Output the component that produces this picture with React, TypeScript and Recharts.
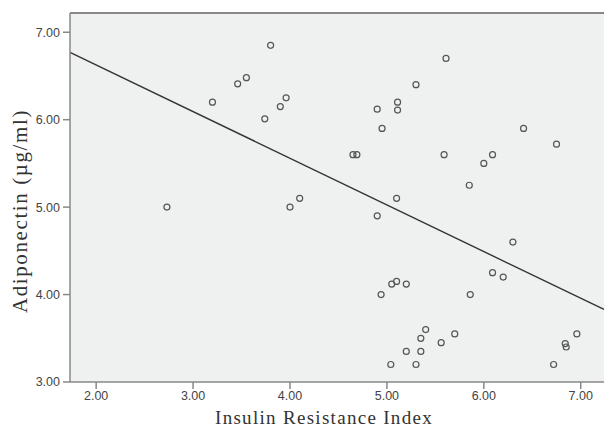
import React from 'react'
import {
  ScatterChart,
  Scatter,
  XAxis,
  YAxis,
  CartesianGrid,
  ReferenceLine,
  Label,
} from 'recharts'

// insulin resistance index vs adiponectin, one entry per subject
const IR = [
  2.73, 3.2, 3.46, 3.55, 3.8, 3.74, 3.9, 3.96, 4.0, 4.1,
  4.65, 4.69, 4.9, 5.11, 5.11, 4.95, 5.3, 5.61, 6.41, 6.75,
  5.59, 6.09, 6.0, 5.85, 5.1, 4.9, 6.3, 6.09, 6.2, 5.86,
  4.94, 5.05, 5.1, 5.2, 5.4, 5.35, 5.56, 5.7, 5.2, 5.35,
  5.04, 5.3, 6.72, 6.84, 6.85, 6.96,
]
const ADIPO = [
  5.0, 6.2, 6.41, 6.48, 6.85, 6.01, 6.15, 6.25, 5.0, 5.1,
  5.6, 5.6, 6.12, 6.2, 6.11, 5.9, 6.4, 6.7, 5.9, 5.72,
  5.6, 5.6, 5.5, 5.25, 5.1, 4.9, 4.6, 4.25, 4.2, 4.0,
  4.0, 4.12, 4.15, 4.12, 3.6, 3.5, 3.45, 3.55, 3.35, 3.35,
  3.2, 3.2, 3.2, 3.44, 3.4, 3.55,
]

// fit line endpoints at the axis limits
const FIT_X = [1.73, 7.24]
const FIT_Y = [6.77, 3.83]

const X_DOMAIN = [1.73, 7.24]
const Y_DOMAIN = [3, 7.22]
const X_TICKS = [2, 3, 4, 5, 6, 7]
const Y_TICKS = [3, 4, 5, 6, 7]

const points = IR.map((x, i) => ({ x, y: ADIPO[i] }))

const tickStyle = { fontSize: 12.5, fill: '#444', fontFamily: 'Liberation Sans, Arial, sans-serif' }
const serif = 'Liberation Serif, Times New Roman, serif'

const OpenDot = (props: any) => {
  const { cx, cy } = props
  if (cx == null || cy == null) return null
  return <circle cx={cx} cy={cy} r={3} fill="none" stroke="#555" strokeWidth={1.2} />
}

const XTitle = (props: any) => {
  const { viewBox } = props
  const cx = viewBox.x + viewBox.width / 2 - 13
  return (
    <text x={cx} y={424} textAnchor="middle" fontFamily={serif} fontSize={19} letterSpacing={1.3} fill="#333">
      Insulin Resistance Index
    </text>
  )
}

const YTitle = () => (
  <text
    x={27}
    y={211}
    transform="rotate(-90, 27, 211)"
    textAnchor="middle"
    fontFamily={serif}
    fontSize={21}
    letterSpacing={1.6}
    fill="#333"
  >
    Adiponectin (µg/ml)
  </text>
)

export default function App() {
  return (
    <div style={{ position: 'absolute', left: 0, top: 0, background: '#fff' }}>
      <ScatterChart
        width={605}
        height={427}
        margin={{ top: 13, right: 1, bottom: 0, left: 0 }}
      >
        <CartesianGrid horizontal={false} vertical={false} fill="#eff0f0" />
        <XAxis
          type="number"
          dataKey="x"
          domain={X_DOMAIN}
          ticks={X_TICKS}
          allowDataOverflow
          height={45}
          tick={tickStyle}
          tickFormatter={(v: number) => v.toFixed(2)}
          tickSize={7}
          tickMargin={2}
          stroke="#888"
          strokeWidth={1.5}
        >
          <Label content={<XTitle />} />
        </XAxis>
        <YAxis
          type="number"
          dataKey="y"
          domain={Y_DOMAIN}
          ticks={Y_TICKS}
          allowDataOverflow
          width={70}
          tick={tickStyle}
          tickFormatter={(v: number) => v.toFixed(2)}
          tickSize={7}
          tickMargin={3}
          stroke="#888"
          strokeWidth={1.5}
        >
          <Label content={<YTitle />} />
        </YAxis>
        <ReferenceLine y={Y_DOMAIN[1]} stroke="#888" strokeWidth={2} />
        <ReferenceLine
          segment={[
            { x: FIT_X[0], y: FIT_Y[0] },
            { x: FIT_X[1], y: FIT_Y[1] },
          ]}
          stroke="#333"
          strokeWidth={1.4}
        />
        <Scatter data={points} shape={OpenDot} isAnimationActive={false} />
      </ScatterChart>
    </div>
  )
}
